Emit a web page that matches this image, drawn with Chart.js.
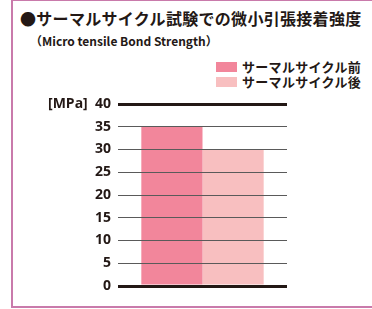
<!DOCTYPE html>
<html>
<head>
<meta charset="utf-8">
<script src="https://cdn.jsdelivr.net/npm/chart.js@4.4.0/dist/chart.umd.min.js"></script>
<style>
  html, body { margin: 0; padding: 0; width: 372px; height: 309px; overflow: hidden; background: #fff; }
  #frame { position: absolute; left: 11px; top: -1px; width: 400px; height: 309px; border: 2px solid #c97aab; box-sizing: border-box; }
  .head { position: absolute; color: #231815; font-family: "Noto Sans CJK JP", sans-serif; font-weight: 700; white-space: nowrap; line-height: 1; }
  #title { left: 20px; top: 10px; font-size: 16px; letter-spacing: 0.3px; }
  #subtitle { left: 30px; top: 35px; font-size: 12px; }
  #legend { position: absolute; left: 216px; top: 59px; }
  .item { display: flex; align-items: center; height: 15px; font-family: "Noto Sans CJK JP", sans-serif; font-weight: 700; font-size: 13px; letter-spacing: 0.3px; color: #231815; white-space: nowrap; }
  .box { width: 21px; height: 10px; margin-right: 5px; }
  #chart { position: absolute; left: 0; top: 0; }
</style>
</head>
<body>
<div id="frame"></div>
<div id="title" class="head">●サーマルサイクル試験での微小引張接着強度</div>
<div id="subtitle" class="head">（Micro tensile Bond Strength）</div>
<div id="legend"></div>
<canvas id="chart" width="372" height="309"></canvas>
<script>
const categories = [''];
const seriesNames = ['サーマルサイクル前', 'サーマルサイクル後'];
const beforeValues = [35];
const afterValues = [30];
const seriesColors = ['#f2869b', '#f8bfc0'];
const yMin = 0;
const yMax = 40;
const yStep = 5;
const unitLabel = '[MPa]';

const ctx = document.getElementById('chart').getContext('2d');

const myChart = new Chart(ctx, {
    type: 'bar',
    data: {
        labels: categories,
        datasets: [
            {
                label: seriesNames[0],
                data: beforeValues,
                backgroundColor: seriesColors[0],
                borderWidth: 0
            },
            {
                label: seriesNames[1],
                data: afterValues,
                backgroundColor: seriesColors[1],
                borderWidth: 0
            }
        ]
    },
    options: {
        responsive: false,
        animation: false,
        layout: {
            padding: { left: 0, right: 85, top: 104, bottom: 23 }
        },
        datasets: {
            bar: {
                categoryPercentage: 0.724,
                barPercentage: 1
            }
        },
        scales: {
            x: {
                display: false
            },
            y: {
                min: yMin,
                max: yMax,
                border: { display: false },
                grid: {
                    z: 1,
                    drawTicks: false,
                    color: function (c) {
                        const v = c.tick && c.tick.value;
                        return (v === yMin || v === yMax) ? '#231815' : '#5a5a5a';
                    },
                    lineWidth: function (c) {
                        const v = c.tick && c.tick.value;
                        return (v === yMin || v === yMax) ? 3 : 1;
                    }
                },
                ticks: {
                    stepSize: yStep,
                    padding: 7,
                    color: '#231815',
                    font: { family: '"Open Sans", sans-serif', weight: 'bold', size: 14 },
                    callback: function (value) {
                        return value === yMax ? unitLabel + '  ' + value : value;
                    }
                },
                afterFit: function (scale) {
                    scale.width = 118;
                }
            }
        },
        plugins: {
            legend: { display: false },
            tooltip: { enabled: false }
        }
    }
});

// legend made from the chart's datasets
const legendEl = document.getElementById('legend');
myChart.data.datasets.forEach(function (ds) {
    const row = document.createElement('div');
    row.className = 'item';
    const box = document.createElement('span');
    box.className = 'box';
    box.style.background = ds.backgroundColor;
    row.appendChild(box);
    row.appendChild(document.createTextNode(ds.label));
    legendEl.appendChild(row);
});
</script>
</body>
</html>
